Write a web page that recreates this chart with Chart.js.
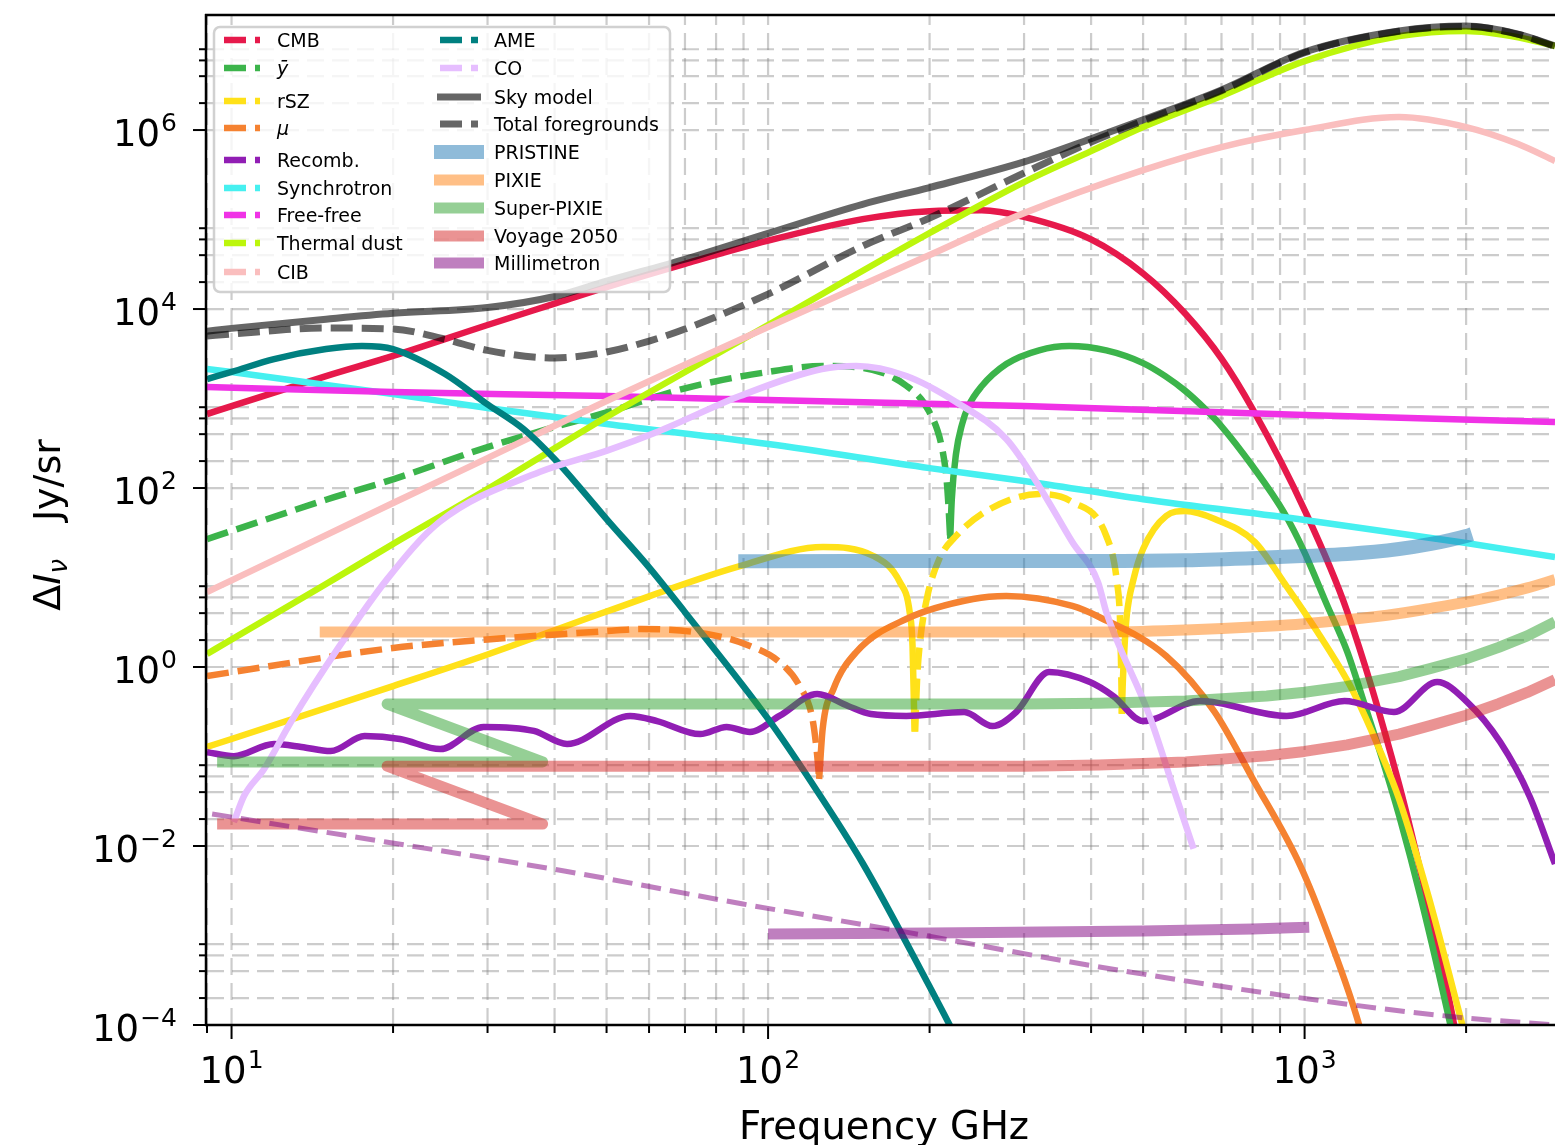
<!DOCTYPE html>
<html>
<head>
<meta charset="utf-8">
<title>Spectral distortion signals, foregrounds and sensitivities</title>
<script src="https://cdn.jsdelivr.net/npm/chart.js@4.4.1/dist/chart.umd.min.js"></script>
<style>
  html, body { margin: 0; padding: 0; background: #ffffff; }
  #box { position: relative; width: 1555px; height: 1145px; }
  canvas { display: block; }
</style>
</head>
<body>
<div id="box"><canvas id="spectrum" width="1555" height="1145"></canvas></div>
<script>
// ---------- axis ticks ----------
const xTickValues = [10, 100, 1000];          // labelled frequencies (GHz)
const yTickExponents = [-4, -2, 0, 2, 4, 6];  // labelled powers of ten (Jy/sr)

// ---------- signals (frequency in GHz, |ΔI| in Jy/sr) ----------
const cmbFreq = [9, 10, 15, 20, 30, 40, 50, 70, 100, 150, 200, 250, 300, 400, 500, 600, 700, 800, 1000, 1200, 1500, 1700, 1900, 2000];
const cmbVal  = [671, 824, 1780, 2990, 6630, 11500, 17600, 32000, 58000, 101000, 124000, 127000, 107000, 60000, 25000, 8800, 2800, 764, 56.8, 4.2, 0.049, 0.0022, 1.0e-4, 1.5e-5];

// y-type distortion: negative branch (dashed) and positive branch
const ybarNegFreq = [9, 10, 15, 20, 30, 40, 50, 70, 100, 126.6, 150, 181, 199.5, 210.6, 215, 217, 218.5];
const ybarNegVal  = [26.9, 33.1, 74, 125, 287, 480, 700, 1300, 1980, 2310, 2200, 1390, 720, 294, 130, 60, 27];
const ybarPosFreq = [218.5, 220, 224, 230, 236, 250, 278, 320, 364, 427, 500, 550, 600, 650, 700, 800, 914, 1000, 1100, 1200, 1300, 1400, 1500, 1650, 1870, 2000];
const ybarPosVal  = [27, 75, 240, 520, 810, 1370, 2430, 3460, 3860, 3450, 2490, 1780, 1210, 780, 490, 175, 54, 19, 5, 1.5, 0.35, 0.088, 0.022, 0.0025, 1.0e-4, 1.5e-5];

// relativistic SZ: positive / negative / positive
const rszPos1Freq = [9, 10, 20, 30, 50, 88.6, 126.6, 157.2, 176, 183.6, 185.9, 187.5];
const rszPos1Val  = [0.128, 0.157, 0.613, 1.38, 4.17, 13.4, 21.9, 17.4, 8.9, 4.12, 1.72, 0.19];
const rszNegFreq  = [188, 189.5, 191.6, 197.6, 208.5, 224, 259, 320, 369, 427, 447, 453, 455.5, 456.5];
const rszNegVal   = [0.19, 0.7, 1.72, 5.75, 16.1, 29.1, 58.2, 85.7, 69.8, 29.1, 8.9, 3.2, 0.7, 0.3];
const rszPos2Freq = [456.5, 458, 462, 466, 480, 500, 552, 599, 680, 808, 914, 1057, 1225, 1396, 1500, 1700, 1966, 2050];
const rszPos2Val  = [0.3, 0.6, 1.8, 3.7, 9.6, 20.8, 48.7, 55.3, 45.1, 24.9, 8.9, 2.46, 0.568, 0.101, 0.0335, 0.0028, 1.03e-4, 4e-5];

// mu-type distortion: negative (dashed) then positive
const muNegFreq = [9, 20, 30, 50, 57.9, 76.9, 92.5, 105, 114.5, 121, 123.5, 124.5];
const muNegVal  = [0.794, 1.63, 2.03, 2.52, 2.66, 2.34, 1.72, 1.14, 0.613, 0.262, 0.101, 0.056];
const muPosFreq = [124.5, 126.4, 132.4, 146, 181, 241, 278, 369, 414, 552, 680, 801, 982, 1114, 1262, 1320];
const muPosVal  = [0.056, 0.203, 0.568, 1.47, 3.44, 5.75, 6.21, 4.81, 3.62, 1.33, 0.314, 0.056, 6.0e-3, 9.1e-4, 1.03e-4, 3.5e-5];

// cosmological recombination radiation
const recombFreq = [9, 10.1, 12.0, 13.5, 15.3, 17.7, 20.6, 24.5, 29.5, 36.6, 42.2, 55.3, 62.1, 74.7, 83.7, 92.5, 105, 123.5, 140.9, 155.5, 181, 232, 262, 290, 334, 398, 440, 500, 638, 926, 1187, 1467, 1767, 2010, 2315, 2626, 2929];
const recombVal  = [0.112, 0.101, 0.138, 0.128, 0.115, 0.169, 0.157, 0.121, 0.214, 0.193, 0.138, 0.284, 0.249, 0.178, 0.214, 0.188, 0.284, 0.499, 0.367, 0.298, 0.284, 0.314, 0.219, 0.314, 0.88, 0.68, 0.474, 0.249, 0.417, 0.284, 0.417, 0.314, 0.68, 0.406, 0.145, 0.036, 0.0063];

// ---------- foregrounds ----------
const syncFreq = [9, 10, 15, 20, 30, 50, 100, 200, 300, 500, 1000, 2000, 2929];
const syncVal  = [2140, 1980, 1415, 1125, 783, 519, 310, 167, 120, 75, 44, 24.3, 16.9];

const ffFreq = [9, 20, 50, 100, 300, 1000, 2929];
const ffVal  = [1345, 1182, 1066, 962, 824, 654, 546];

const dustFreq = [9, 10, 15, 20, 30, 50, 100, 200, 300, 400, 500, 700, 1000, 1500, 2000, 2500, 2929];
const dustVal  = [1.40, 2.03, 8.46, 23.7, 97.5, 621, 6630, 70700, 262000, 582000, 1.08e6, 2.4e6, 5.9e6, 1.12e7, 1.28e7, 1.09e7, 8.68e6];

const cibFreq = [9, 10, 20, 30, 50, 100, 200, 300, 500, 700, 1000, 1500, 2000, 2500, 2929];
const cibVal  = [6.89, 9.3, 68, 216, 938, 6300, 40100, 118000, 357000, 646000, 1.0e6, 1.4e6, 1.08e6, 698000, 451000];

const ameFreq = [9, 10, 12, 15, 17.5, 20, 25, 30, 35, 40, 45, 50, 60, 70, 100, 120, 150, 200, 220];
const ameVal  = [1650, 1980, 2760, 3570, 3860, 3570, 1880, 860, 456, 211, 95, 45, 13.0, 4.1, 0.263, 0.0532, 6.46e-3, 2.69e-4, 9e-5];

const coFreq = [10.1, 10.55, 11.5, 12.9, 15.9, 19.5, 24.4, 37.5, 50.1, 62.1, 88.6, 126, 146, 181, 224, 278, 320, 369, 412, 427, 514, 576, 621];
const coVal  = [0.0185, 0.0362, 0.0725, 0.243, 1.72, 9.6, 41.7, 151, 262, 423, 1066, 2136, 2310, 1785, 914, 353, 105, 24.9, 8.9, 4.1, 0.284, 0.036, 0.0093];

const skyFreq = [9, 10, 15, 20, 30, 40, 50, 70, 100, 150, 200, 300, 400, 500, 700, 1000, 1500, 2000, 2500, 2929];
const skyVal  = [5660, 6080, 7700, 8960, 10400, 13800, 20500, 36000, 70000, 148000, 228000, 440000, 800000, 1.3e6, 2.8e6, 7.44e6, 1.28e7, 1.45e7, 1.18e7, 8.7e6];

const fgFreq = [9, 10, 15, 20, 25, 30, 40, 50, 60, 70, 100, 150, 200, 300, 400, 500, 700, 1000, 1500, 2000, 2500, 2929];
const fgVal  = [4990, 5260, 6140, 5980, 4600, 3450, 2840, 3310, 4390, 5980, 14700, 50600, 104000, 331000, 734000, 1.26e6, 2.75e6, 7.3e6, 1.27e7, 1.44e7, 1.17e7, 8.6e6];

// ---------- instrument sensitivities ----------
const pristineFreq = [88, 100, 200, 414, 600, 850, 1000, 1200, 1500, 1720, 2000, 2050];
const pristineVal  = [15.2, 15.2, 15.3, 15.3, 15.6, 16.7, 17.4, 18.3, 20.8, 23.7, 29.1, 30.5];

const pixieFreq = [14.6, 100, 414, 600, 850, 1000, 1200, 1500, 1720, 2000, 2300, 2600, 2929];
const pixieVal  = [2.46, 2.46, 2.46, 2.60, 2.86, 3.05, 3.37, 3.97, 4.53, 5.31, 6.37, 7.67, 9.48];

const superPixieFreq = [9.4, 38, 19.5, 100, 300, 414, 600, 850, 1000, 1200, 1500, 1720, 2000, 2300, 2600, 2929];
const superPixieVal  = [0.087, 0.087, 0.386, 0.386, 0.386, 0.393, 0.416, 0.474, 0.523, 0.607, 0.781, 0.965, 1.235, 1.656, 2.225, 3.2];

const voyageFreq = [9.4, 38, 19.5, 100, 300, 414, 600, 850, 1000, 1200, 1500, 1720, 2000, 2300, 2600, 2929];
const voyageVal  = [0.0176, 0.0176, 0.078, 0.078, 0.078, 0.0805, 0.0871, 0.102, 0.114, 0.135, 0.178, 0.223, 0.289, 0.389, 0.52, 0.721];

const millimetronFreq = [100, 200, 500, 800, 1020];
const millimetronVal  = [1.04e-3, 1.07e-3, 1.12e-3, 1.18e-3, 1.24e-3];
const millimetronLineFreq = [9.2, 19.4, 41.7, 89.8, 181, 405, 1018, 1910, 2929];
const millimetronLineVal  = [0.0228, 0.0111, 5.26e-3, 2.25e-3, 1.09e-3, 4.56e-4, 1.95e-4, 1.23e-4, 1.0e-4];

// ---------- styling ----------
const FONT = '"DejaVu Sans", "Liberation Sans", sans-serif';
const C = {
  cmb: '#e6194b', ybar: '#3cb44b', rsz: '#ffe119', mu: '#f58231', recomb: '#911eb4',
  sync: '#46f0f0', ff: '#f032e6', dust: '#bcf60c', cib: '#fabebe', ame: '#008080', co: '#e6beff',
  gray: 'rgba(0,0,0,0.6)',
  pristine: 'rgba(31,119,180,0.5)', pixie: 'rgba(255,127,14,0.5)', superPixie: 'rgba(44,160,44,0.5)',
  voyage: 'rgba(214,39,40,0.5)', millimetron: 'rgba(128,0,128,0.5)'
};
const LW = 6.5;
const DASH = [22, 9];

function pts(freq, val) { return freq.map((f, i) => ({ x: f, y: val[i] })); }

function series(label, freq, val, color, width, dash, order, smooth) {
  return {
    label, data: pts(freq, val),
    borderColor: color, backgroundColor: color, borderWidth: width,
    borderDash: dash || [], fill: false, pointRadius: 0, pointHoverRadius: 0,
    cubicInterpolationMode: smooth === false ? 'default' : 'monotone', tension: 0,
    borderCapStyle: 'butt', borderJoinStyle: 'round', clip: 0, order
  };
}

const datasets = [
  series('CMB', cmbFreq, cmbVal, C.cmb, LW, null, 30),
  series('ȳ (negative)', ybarNegFreq, ybarNegVal, C.ybar, LW, DASH, 29),
  series('ȳ', ybarPosFreq, ybarPosVal, C.ybar, LW, null, 29),
  series('rSZ', rszPos1Freq, rszPos1Val, C.rsz, LW, null, 28),
  series('rSZ (negative)', rszNegFreq, rszNegVal, C.rsz, LW, DASH, 28),
  series('rSZ', rszPos2Freq, rszPos2Val, C.rsz, LW, null, 28),
  series('μ (negative)', muNegFreq, muNegVal, C.mu, LW, DASH, 27),
  series('μ', muPosFreq, muPosVal, C.mu, LW, null, 27),
  series('Recomb.', recombFreq, recombVal, C.recomb, LW, null, 26),
  series('Synchrotron', syncFreq, syncVal, C.sync, LW, null, 25),
  series('Free-free', ffFreq, ffVal, C.ff, LW, null, 24),
  series('Thermal dust', dustFreq, dustVal, C.dust, LW, null, 23),
  series('CIB', cibFreq, cibVal, C.cib, LW, null, 22),
  series('AME', ameFreq, ameVal, C.ame, LW, null, 21),
  series('CO', coFreq, coVal, C.co, LW, null, 20),
  series('Sky model', skyFreq, skyVal, C.gray, 7, null, 19),
  series('Total foregrounds', fgFreq, fgVal, C.gray, 7, DASH, 18),
  series('PRISTINE', pristineFreq, pristineVal, C.pristine, 14, null, 5),
  series('PIXIE', pixieFreq, pixieVal, C.pixie, 11, null, 4),
  series('Super-PIXIE', superPixieFreq, superPixieVal, C.superPixie, 11, null, 3, false),
  series('Voyage 2050', voyageFreq, voyageVal, C.voyage, 11, null, 2, false),
  series('Millimetron', millimetronFreq, millimetronVal, C.millimetron, 11, null, 1),
  series('Millimetron (line)', millimetronLineFreq, millimetronLineVal, C.millimetron, 5, [20, 9], 1)
];

// legend rows: [text, colour, handle kind, width, italic]
const legendLeft = [
  ['CMB', C.cmb, 'dash', LW], ['ȳ', C.ybar, 'dash', LW, true], ['rSZ', C.rsz, 'dash', LW],
  ['μ', C.mu, 'dash', LW, true], ['Recomb.', C.recomb, 'dash', LW], ['Synchrotron', C.sync, 'dash', LW],
  ['Free-free', C.ff, 'dash', LW], ['Thermal dust', C.dust, 'dash', LW], ['CIB', C.cib, 'dash', LW]
];
const legendRight = [
  ['AME', C.ame, 'dash', LW], ['CO', C.co, 'dash', LW], ['Sky model', C.gray, 'solid', 7],
  ['Total foregrounds', C.gray, 'dash', 7], ['PRISTINE', C.pristine, 'band', 14], ['PIXIE', C.pixie, 'band', 11],
  ['Super-PIXIE', C.superPixie, 'band', 11], ['Voyage 2050', C.voyage, 'band', 11], ['Millimetron', C.millimetron, 'band', 11]
];
const leftRowsY = [40, 68, 101, 128, 160, 188, 215, 243, 272];
const rightRowsY = [40, 68, 97, 124, 152, 180, 208, 236, 263];

function gridValues() {
  const xs = [], ys = [];
  for (let e = 0; e <= 3; e++) for (let m = 1; m <= 9; m++) {
    const v = m * Math.pow(10, e);
    if (v >= 9 && v <= 2929) xs.push(v);
  }
  for (const e of yTickExponents) for (const m of [1, 2, 4, 6, 8]) ys.push(m * Math.pow(10, e));
  return { xs, ys };
}

const gridPlugin = {
  id: 'dashedGrid',
  beforeDatasetsDraw(chart) {
    const { ctx, chartArea: a } = chart;
    const sx = chart.scales.x, sy = chart.scales.y;
    const g = gridValues();
    ctx.save();
    ctx.beginPath(); ctx.rect(a.left, a.top, a.right - a.left, a.bottom - a.top); ctx.clip();
    ctx.strokeStyle = 'rgba(128,128,128,0.4)';
    ctx.lineWidth = 2.2;
    ctx.setLineDash([17, 8]);
    for (const f of g.xs) {
      const px = sx.getPixelForValue(f);
      ctx.beginPath(); ctx.moveTo(px, a.bottom); ctx.lineTo(px, a.top); ctx.stroke();
    }
    for (const v of g.ys) {
      const py = sy.getPixelForValue(v);
      ctx.beginPath(); ctx.moveTo(a.left, py); ctx.lineTo(a.right, py); ctx.stroke();
    }
    ctx.restore();
  }
};

function drawPower(ctx, exp, x, baseline, align) {
  const base = '10';
  const sup = exp < 0 ? '\u2212' + Math.abs(exp) : String(exp);
  ctx.font = `37px ${FONT}`;
  const wb = ctx.measureText(base).width;
  ctx.font = `25px ${FONT}`;
  const ws = ctx.measureText(sup).width;
  const total = wb + 1 + ws;
  const start = align === 'center' ? x - total / 2 : x - total;
  ctx.font = `37px ${FONT}`;
  ctx.fillText(base, start, baseline);
  ctx.font = `25px ${FONT}`;
  ctx.fillText(sup, start + wb + 1, baseline - 15);
}

function drawLegend(ctx) {
  ctx.save();
  const bx = 214, by = 27, bw = 456, bh = 265, r = 6;
  ctx.beginPath();
  ctx.moveTo(bx + r, by); ctx.lineTo(bx + bw - r, by); ctx.arcTo(bx + bw, by, bx + bw, by + r, r);
  ctx.lineTo(bx + bw, by + bh - r); ctx.arcTo(bx + bw, by + bh, bx + bw - r, by + bh, r);
  ctx.lineTo(bx + r, by + bh); ctx.arcTo(bx, by + bh, bx, by + bh - r, r);
  ctx.lineTo(bx, by + r); ctx.arcTo(bx, by, bx + r, by, r); ctx.closePath();
  ctx.fillStyle = 'rgba(255,255,255,0.8)'; ctx.fill();
  ctx.strokeStyle = 'rgba(204,204,204,0.9)'; ctx.lineWidth = 2.5; ctx.setLineDash([]); ctx.stroke();

  const drawCol = (rows, ys, hx0, hx1, tx) => {
    rows.forEach((row, i) => {
      const [text, color, kind, width, italic] = row;
      const y = ys[i];
      ctx.strokeStyle = color; ctx.lineWidth = width; ctx.lineCap = 'butt';
      if (kind === 'band') {
        ctx.setLineDash([]);
        ctx.beginPath(); ctx.moveTo(hx0 - 6, y); ctx.lineTo(hx1 + 6, y); ctx.stroke();
      } else if (kind === 'solid') {
        ctx.setLineDash([]);
        ctx.beginPath(); ctx.moveTo(hx0 - 3, y); ctx.lineTo(hx1 + 3, y); ctx.stroke();
      } else {
        ctx.setLineDash(DASH);
        ctx.beginPath(); ctx.moveTo(hx0, y); ctx.lineTo(hx1, y); ctx.stroke();
      }
      ctx.setLineDash([]);
      ctx.fillStyle = '#000';
      ctx.font = `${italic ? 'italic ' : ''}19px ${FONT}`;
      ctx.textBaseline = 'alphabetic';
      ctx.fillText(text, tx, y + 7);
    });
  };
  drawCol(legendLeft, leftRowsY, 224, 260, 277);
  drawCol(legendRight, rightRowsY, 440, 478, 494);
  ctx.restore();
}

const framePlugin = {
  id: 'frameAndLabels',
  afterDatasetsDraw(chart) {
    const { ctx, chartArea: a } = chart;
    const sx = chart.scales.x, sy = chart.scales.y;
    const g = gridValues();
    ctx.save();
    ctx.strokeStyle = '#000'; ctx.fillStyle = '#000'; ctx.setLineDash([]);

    // tick marks
    ctx.lineWidth = 2;
    for (const f of g.xs) {
      const px = sx.getPixelForValue(f);
      const len = xTickValues.includes(f) ? 14 : 8;
      ctx.beginPath(); ctx.moveTo(px, a.bottom); ctx.lineTo(px, a.bottom + len); ctx.stroke();
    }
    for (const v of g.ys) {
      const py = sy.getPixelForValue(v);
      const major = yTickExponents.some(e => Math.abs(v / Math.pow(10, e) - 1) < 1e-9);
      const len = major ? 14 : 8;
      ctx.beginPath(); ctx.moveTo(a.left, py); ctx.lineTo(a.left - len, py); ctx.stroke();
    }

    // spines
    ctx.lineWidth = 2.5;
    ctx.beginPath();
    ctx.moveTo(a.left - 1, a.top - 1); ctx.lineTo(a.left - 1, a.bottom + 1);
    ctx.moveTo(a.left - 2, a.bottom); ctx.lineTo(a.right, a.bottom);
    ctx.moveTo(a.left - 2, a.top); ctx.lineTo(a.right, a.top);
    ctx.stroke();

    // tick labels
    ctx.textBaseline = 'alphabetic'; ctx.textAlign = 'left';
    for (const f of xTickValues) {
      drawPower(ctx, Math.round(Math.log10(f)), sx.getPixelForValue(f), a.bottom + 58, 'center');
    }
    for (const e of yTickExponents) {
      drawPower(ctx, e, 177, sy.getPixelForValue(Math.pow(10, e)) + 15.5, 'right');
    }

    // axis titles
    ctx.font = `38.5px ${FONT}`; ctx.textAlign = 'center';
    ctx.fillText('Frequency GHz', 884, 1139);
    ctx.textAlign = 'left';
    ctx.save();
    ctx.translate(60, 525);
    ctx.rotate(-Math.PI / 2);
    const parts = [
      { t: 'Δ', f: `38px ${FONT}`, dy: 0 },
      { t: 'I', f: `italic 38px ${FONT}`, dy: 0 },
      { t: 'ν', f: `italic 26px ${FONT}`, dy: 7 },
      { t: '', f: `38px ${FONT}`, dy: 0, gap: 38 },
      { t: 'Jy/sr', f: `38px ${FONT}`, dy: 0 }
    ];
    let total = 0;
    for (const p of parts) { ctx.font = p.f; p.w = p.gap || ctx.measureText(p.t).width; total += p.w; }
    let u = -total / 2;
    for (const p of parts) { ctx.font = p.f; if (p.t) ctx.fillText(p.t, u, p.dy); u += p.w; }
    ctx.restore();

    drawLegend(ctx);
    ctx.restore();
  }
};

new Chart(document.getElementById('spectrum'), {
  type: 'line',
  data: { datasets },
  options: {
    responsive: false,
    animation: false,
    devicePixelRatio: 1,
    events: [],
    layout: { padding: { left: 207, top: 15, right: 0, bottom: 120 } },
    plugins: { legend: { display: false }, tooltip: { enabled: false } },
    scales: {
      x: { type: 'logarithmic', min: 9, max: 2929, display: false },
      y: { type: 'logarithmic', min: 1e-4, max: 1.93e7, display: false }
    }
  },
  plugins: [gridPlugin, framePlugin]
});
</script>
</body>
</html>
